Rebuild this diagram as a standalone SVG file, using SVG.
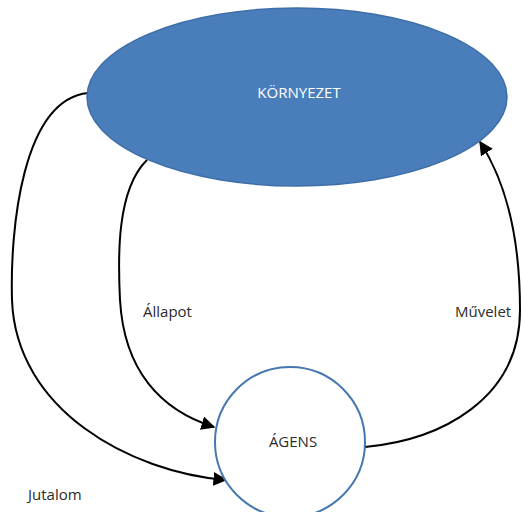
<svg xmlns="http://www.w3.org/2000/svg" width="522" height="512" viewBox="0 0 522 512">
  <style>
    .lbl { font-family: "Open Sans", "Noto Sans", sans-serif; font-size: 15px; fill: #2b2b2b; }
    .conn { fill: none; stroke: #000; stroke-width: 2; }
  </style>
  <defs>
    <marker id="arrowBig" viewBox="0 0 10 10" refX="9" refY="5" markerWidth="14" markerHeight="14" markerUnits="userSpaceOnUse" orient="auto">
      <path d="M0,0 L10,5 L0,10 z" fill="#000"/>
    </marker>
  </defs>
  <rect width="522" height="512" fill="#fff"/>

  <g id="connectors">
    <!-- Jutalom: environment to agent, outer loop -->
    <path class="conn" d="M88,93 C 22,100 10,230 12,300 C 16,410 130,472 226,480" marker-end="url(#arrowBig)"/>
    <!-- Állapot: environment to agent, inner loop -->
    <path class="conn" d="M147,160 C 116,190 118,260 120,300 C 124,370 160,410 214,427" marker-end="url(#arrowBig)"/>
    <!-- Művelet: agent back to environment -->
    <path class="conn" d="M365,447 C 440,440 520,400 520,310 C 520,240 506,182 480,142" marker-end="url(#arrowBig)"/>
  </g>

  <g id="kornyezet">
    <ellipse cx="297" cy="97" rx="210" ry="89" fill="#4a7ebb" stroke="#3d6ea8" stroke-width="1.5"/>
    <text x="299" y="98" text-anchor="middle" class="lbl" style="fill:#fff">KÖRNYEZET</text>
  </g>

  <g id="agens">
    <circle cx="290" cy="442" r="75" fill="#fff" stroke="#4677b0" stroke-width="2"/>
    <text x="293" y="447" text-anchor="middle" class="lbl">ÁGENS</text>
  </g>

  <g id="labels">
    <text x="143" y="317" class="lbl">Állapot</text>
    <text x="455" y="317" class="lbl">Művelet</text>
    <text x="28" y="500" class="lbl">Jutalom</text>
  </g>
</svg>
